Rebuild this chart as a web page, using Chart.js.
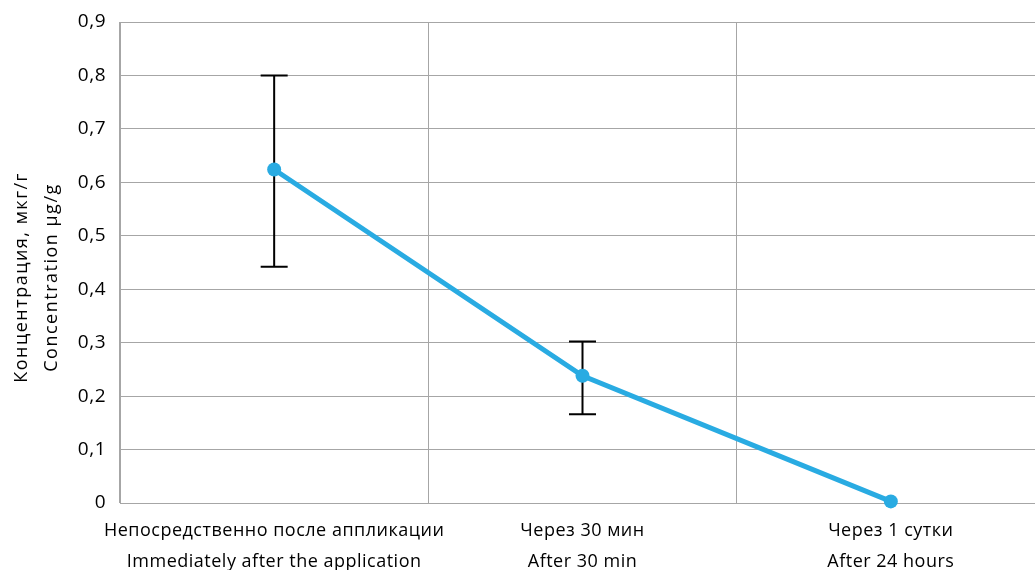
<!DOCTYPE html>
<html>
<head>
<meta charset="utf-8">
<script src="https://cdn.jsdelivr.net/npm/chart.js@4/dist/chart.umd.min.js"></script>
<style>
  html, body { margin: 0; padding: 0; background: #ffffff; overflow: hidden; }
  #wrap { width: 1035px; height: 570px; overflow: hidden; position: relative; }
  #c { position: absolute; left: 0; top: 0; }
</style>
</head>
<body>
<div id="wrap"><canvas id="c" width="1045" height="570"></canvas></div>
<script>
const categories = [
  ['Непосредственно после аппликации', 'Immediately after the application'],
  ['Через 30 мин', 'After 30 min'],
  ['Через 1 сутки', 'After 24 hours']
];
const values = [0.624, 0.238, 0.003];
const errHigh = [0.80, 0.302, null];
const errLow = [0.442, 0.166, null];
const yMin = 0, yMax = 0.9, yStep = 0.1;
const yTitle = ['Концентрация, мкг/г', 'Concentration µg/g'];

const FONT = "'Open Sans', sans-serif";
const lineColor = '#29abe2';
const gridColor = '#a6a6a6';

const spacing = {
  id: 'spacing',
  beforeLayout(chart) { chart.ctx.letterSpacing = '0.5px'; },
  beforeDraw(chart) { chart.ctx.letterSpacing = '0.5px'; }
};

const errorBars = {
  id: 'errorBars',
  beforeDatasetsDraw(chart) {
    const ctx = chart.ctx;
    const x = chart.scales.x, y = chart.scales.y;
    ctx.save();
    ctx.strokeStyle = '#000000';
    ctx.lineWidth = 2;
    for (let i = 0; i < values.length; i++) {
      if (errHigh[i] == null || errLow[i] == null) continue;
      const px = x.getPixelForValue(i);
      const pt = y.getPixelForValue(errHigh[i]);
      const pb = y.getPixelForValue(errLow[i]);
      const cap = 13.5;
      ctx.beginPath();
      ctx.moveTo(px, pt); ctx.lineTo(px, pb);
      ctx.moveTo(px - cap, pt); ctx.lineTo(px + cap, pt);
      ctx.moveTo(px - cap, pb); ctx.lineTo(px + cap, pb);
      ctx.stroke();
    }
    ctx.restore();
  }
};

const yAxisTitle = {
  id: 'yAxisTitle',
  afterDraw(chart) {
    const ctx = chart.ctx;
    const area = chart.chartArea;
    ctx.save();
    ctx.fillStyle = '#000000';
    ctx.font = "18px " + FONT;
    ctx.letterSpacing = '1.5px';
    ctx.textAlign = 'center';
    ctx.textBaseline = 'middle';
    const cy = (area.top + area.bottom) / 2 + 15;
    const xs = [22, 52];
    yTitle.forEach((t, i) => {
      ctx.save();
      ctx.translate(xs[i], cy);
      ctx.rotate(-Math.PI / 2);
      ctx.fillText(t, 0, 0);
      ctx.restore();
    });
    ctx.restore();
  }
};

new Chart(document.getElementById('c'), {
  type: 'line',
  data: {
    labels: categories,
    datasets: [{
      data: values,
      borderColor: lineColor,
      backgroundColor: lineColor,
      borderWidth: 5,
      pointRadius: 7,
      pointHoverRadius: 7,
      pointBorderWidth: 0,
      pointBackgroundColor: lineColor,
      tension: 0,
      fill: false,
      clip: false
    }]
  },
  options: {
    responsive: false,
    animation: false,
    devicePixelRatio: 1,
    layout: { autoPadding: false, padding: { top: 22, right: 0, bottom: 0, left: 0 } },
    plugins: { legend: { display: false }, tooltip: { enabled: false } },
    scales: {
      x: {
        offset: true,
        grid: { offset: true, color: gridColor, lineWidth: 1, drawTicks: false },
        border: { display: true, color: gridColor, width: 1 },
        ticks: {
          color: '#000000',
          font: { family: FONT, size: 18, lineHeight: 1.72 },
          padding: 12,
          maxRotation: 0,
          autoSkip: false
        },
        afterFit(s) { s.height = 67; }
      },
      y: {
        min: yMin, max: yMax,
        grid: { color: gridColor, lineWidth: 1, drawTicks: true, tickLength: 4, tickColor: 'rgba(0,0,0,0)' },
        border: { display: true, color: gridColor, width: 1 },
        ticks: {
          stepSize: yStep,
          color: '#000000',
          font: { family: FONT, size: 19 },
          padding: 10,
          callback(v) {
            const r = Math.round(v * 10) / 10;
            return r === 0 ? '0' : r.toFixed(1).replace('.', ',');
          }
        },
        afterFit(s) { s.width = 120; }
      }
    }
  },
  plugins: [spacing, errorBars, yAxisTitle]
});
</script>
</body>
</html>
